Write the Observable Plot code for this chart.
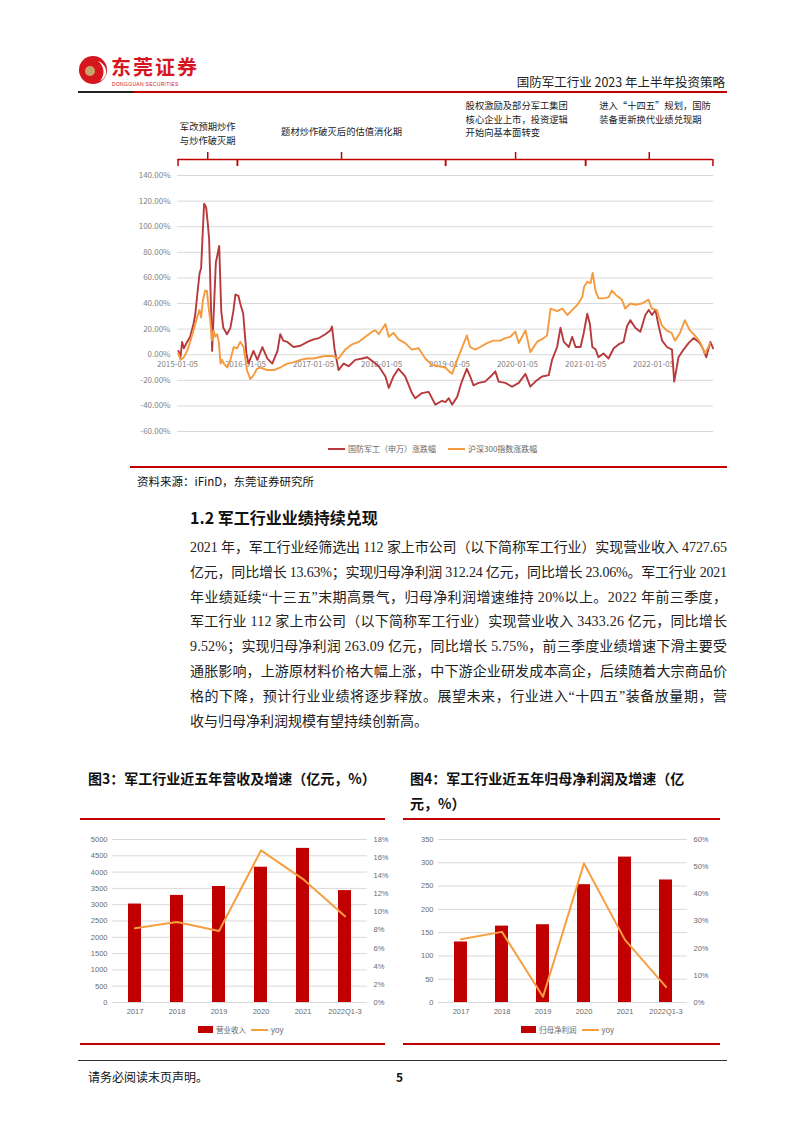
<!DOCTYPE html>
<html><head><meta charset="utf-8">
<script src="https://cdn.jsdelivr.net/npm/d3@7"></script>
<script src="https://cdn.jsdelivr.net/npm/@observablehq/plot@0.6"></script>
<style>
body{margin:0;background:#fff;}
#page{position:relative;width:802px;height:1133px;overflow:hidden;background:#fff;font-family:"Noto Sans CJK SC","Noto Sans",sans-serif;color:#1a1a1a;}
.abs{position:absolute;}
.hr{position:absolute;}
.pline{position:absolute;left:190px;height:20px;line-height:20px;font-size:14px;white-space:nowrap;font-family:"Liberation Serif","Noto Sans CJK SC",serif;color:#222;}
.figtitle{position:absolute;font-size:14px;font-weight:bold;white-space:nowrap;color:#111;}
.legend{position:absolute;font-size:8px;color:#666;white-space:nowrap;display:flex;align-items:center;}
.legend .ln{display:inline-block;width:17px;height:2px;margin-right:3px;}
.legend .bx{display:inline-block;width:15px;height:7px;margin-right:3px;}
svg{overflow:visible;}
</style></head>
<body><div id="page">
  <!-- header -->
  <svg class="abs" style="left:78px;top:53px" width="32" height="34" viewBox="0 0 32 34">
    <circle cx="15" cy="17" r="14" fill="#d5161f"/>
    <path d="M20 8 C30 12 31 24 22 28 C27 22 27 14 20 8 Z" fill="#fff"/>
    <circle cx="12" cy="18" r="5" fill="#c9a46a"/>
  </svg>
  <div class="abs" style="left:111px;top:55px;font-size:20px;font-weight:bold;color:#d5161f;letter-spacing:2px;line-height:24px;">东莞证券</div>
  <div class="abs" style="left:112px;top:81px;font-size:5px;color:#d5161f;letter-spacing:0.3px;line-height:6px;font-family:'Liberation Sans',sans-serif;">DONGGUAN SECURITIES</div>
  <div class="abs" style="right:77px;top:74px;font-size:12.5px;line-height:16px;color:#222;white-space:nowrap;">国防军工行业 2023 年上半年投资策略</div>
  <div class="hr" style="left:78px;top:91px;width:56px;height:2px;background:#222;"></div>
  <div class="hr" style="left:134px;top:91px;width:593px;height:2px;background:#c00000;"></div>

  <div id="topchart" class="abs" style="left:130px;top:95px;"></div>
  <div class="legend" style="left:328px;top:443px;"><span class="ln" style="background:#b8393b"></span>国防军工（申万）涨跌幅</div>
  <div class="legend" style="left:448px;top:443px;"><span class="ln" style="background:#f49b3f"></span>沪深300指数涨跌幅</div>

  <div class="hr" style="left:130px;top:466px;width:597px;height:1.5px;background:#c00000;"></div>
  <div class="abs" style="left:137px;top:472px;font-size:11.5px;line-height:18px;color:#111;">资料来源：iFinD，东莞证券研究所</div>

  <div class="abs" style="left:190px;top:506px;font-size:16px;font-weight:bold;line-height:22px;color:#111;">1.2 军工行业业绩持续兑现</div>

  <div id="para"></div>

  <div class="figtitle" style="left:88px;top:768px;">图3：军工行业近五年营收及增速（亿元，%）</div>
  <div class="figtitle" style="left:410px;top:768px;">图4：军工行业近五年归母净利润及增速（亿</div>
  <div class="figtitle" style="left:410px;top:793px;">元，%）</div>

  <div class="hr" style="left:80px;top:818px;width:305px;height:1.5px;background:#c00000;"></div>
  <div class="hr" style="left:403px;top:818px;width:317px;height:1.5px;background:#c00000;"></div>
  <div id="chart3" class="abs" style="left:80px;top:822px;"></div>
  <div id="chart4" class="abs" style="left:403px;top:822px;"></div>
  <div class="legend" style="left:198px;top:1024px;font-size:7.5px;"><span class="bx" style="background:#c00000"></span>营业收入<span class="ln" style="background:#f5a040;margin-left:5px;"></span>yoy</div>
  <div class="legend" style="left:521px;top:1024px;font-size:7.5px;"><span class="bx" style="background:#c00000"></span>归母净利润<span class="ln" style="background:#f5a040;margin-left:5px;"></span>yoy</div>
  <div class="hr" style="left:80px;top:1043px;width:305px;height:1.5px;background:#c00000;"></div>
  <div class="hr" style="left:403px;top:1043px;width:317px;height:1.5px;background:#c00000;"></div>

  <div class="hr" style="left:78px;top:1060px;width:649px;height:1px;background:#333;"></div>
  <div class="abs" style="left:88px;top:1069px;font-size:12px;line-height:16px;color:#111;">请务必阅读末页声明。</div>
  <div class="abs" style="left:396px;top:1069px;font-size:12px;line-height:16px;font-weight:bold;color:#111;">5</div>
</div>
<script>
// ---------- DATA ----------
const defenseDates = ["2015-01-10","2015-01-21","2015-01-30","2015-02-08","2015-02-26","2015-03-14","2015-04-01","2015-04-10","2015-04-22","2015-05-03","2015-05-12","2015-05-21","2015-05-28","2015-06-08","2015-06-17","2015-06-24","2015-07-03","2015-07-10","2015-07-30","2015-08-17","2015-08-28","2015-09-08","2015-09-28","2015-10-16","2015-11-01","2015-11-12","2015-11-28","2015-12-08","2015-12-24","2016-01-10","2016-01-21","2016-02-17","2016-03-09","2016-04-05","2016-05-02","2016-05-28","2016-06-25","2016-07-10","2016-07-26","2016-08-17","2016-09-19","2016-10-26","2016-12-03","2017-01-05","2017-02-03","2017-03-09","2017-04-05","2017-04-14","2017-04-28","2017-05-19","2017-06-15","2017-07-12","2017-08-17","2017-09-23","2017-10-20","2017-11-16","2017-12-21","2018-01-26","2018-02-13","2018-03-10","2018-04-06","2018-05-12","2018-06-17","2018-07-05","2018-08-10","2018-09-15","2018-10-21","2018-11-26","2018-12-14","2019-01-01","2019-01-19","2019-02-15","2019-03-12","2019-04-08","2019-04-26","2019-05-14","2019-06-10","2019-07-15","2019-08-21","2019-09-08","2019-09-26","2019-11-01","2019-12-07","2020-01-12","2020-02-17","2020-03-14","2020-04-10","2020-05-16","2020-06-21","2020-07-09","2020-08-05","2020-08-23","2020-09-10","2020-10-07","2020-10-25","2020-11-12","2020-12-09","2020-12-26","2021-01-14","2021-01-28","2021-02-10","2021-02-28","2021-03-15","2021-04-11","2021-05-08","2021-06-05","2021-07-01","2021-07-28","2021-08-15","2021-09-02","2021-09-29","2021-10-26","2021-11-22","2021-12-10","2021-12-28","2022-01-15","2022-02-02","2022-02-20","2022-03-18","2022-04-14","2022-04-26","2022-05-19","2022-06-15","2022-07-12","2022-08-08","2022-09-05","2022-09-23","2022-10-15","2022-11-06","2022-11-21"];
const defenseValues = [3,-2,10,5,10,14,24,31,48,63,68,97,118,115,102,90,42,3,72,85,34,21,16,21,34,47,46,40,32,1,-7,3,-4,6,-3,-7,3,16,11,10,6,7,10,12,13,16,19,22,4,-12,-7,-9,-4,-3,-2,-5,-9,-17,-26,-17,-11,-17,-30,-34,-30,-29,-39,-36,-37,-34,-39,-33,-21,-11,-17,-24,-22,-21,-16,-13,-21,-22,-25,-22,-15,-25,-21,-17,-16,-4,6,21,10,6,14,6,6,17,32,24,6,4,-2,1,-3,5,8,10,22,27,21,18,31,35,31,35,22,11,6,4,-21,-2,4,9,13,10,6,-2,10,5];

const hs300Dates = ["2015-01-10","2015-01-21","2015-02-08","2015-02-26","2015-03-14","2015-04-01","2015-04-20","2015-05-03","2015-05-12","2015-05-21","2015-06-02","2015-06-12","2015-06-21","2015-06-30","2015-07-09","2015-07-18","2015-07-27","2015-08-06","2015-08-15","2015-08-24","2015-09-02","2015-09-11","2015-09-29","2015-10-16","2015-11-03","2015-11-21","2015-12-08","2015-12-26","2016-01-13","2016-01-31","2016-02-18","2016-03-07","2016-03-25","2016-04-30","2016-06-05","2016-07-10","2016-08-16","2016-09-21","2016-10-26","2016-12-01","2017-01-05","2017-02-03","2017-03-09","2017-04-14","2017-05-19","2017-06-24","2017-07-30","2017-09-04","2017-10-10","2017-11-16","2017-12-03","2017-12-21","2018-01-26","2018-02-13","2018-03-10","2018-04-06","2018-05-12","2018-06-17","2018-07-23","2018-08-28","2018-10-03","2018-11-08","2018-12-14","2019-01-03","2019-01-19","2019-02-15","2019-03-12","2019-04-08","2019-04-26","2019-05-23","2019-06-19","2019-07-25","2019-08-30","2019-10-05","2019-11-01","2019-11-28","2019-12-25","2020-01-12","2020-01-30","2020-02-17","2020-03-14","2020-04-19","2020-05-25","2020-06-12","2020-07-01","2020-08-06","2020-09-02","2020-09-29","2020-10-26","2020-11-22","2020-12-01","2020-12-18","2020-12-28","2021-01-14","2021-02-01","2021-02-12","2021-02-27","2021-03-16","2021-04-12","2021-05-09","2021-05-26","2021-06-22","2021-07-19","2021-08-06","2021-09-02","2021-09-29","2021-11-03","2021-12-09","2021-12-27","2022-01-22","2022-02-18","2022-03-16","2022-04-12","2022-04-30","2022-05-27","2022-06-22","2022-07-19","2022-08-15","2022-09-11","2022-10-08","2022-10-26","2022-11-04"];
const hs300Values = [1,-4,-2,3,10,19,29,35,29,42,50,50,37,27,11,19,14,16,10,-7,-4,-7,-10,-4,6,5,10,6,-12,-19,-16,-11,-10,-12,-12,-10,-7,-6,-4,-3,-3,-2,-1,-1,-3,4,8,10,14,18,19,16,24,14,17,12,9,4,5,-3,-8,-9,-10,-13,-15,-4,5,15,6,4,6,9,11,11,13,14,18,9,14,19,2,10,13,15,36,34,36,31,35,39,41,45,53,57,56,64,50,44,44,45,50,46,43,36,40,39,40,43,36,35,23,19,17,11,17,27,19,15,10,1,6,9];

const topYTicks = [-60,-40,-20,0,20,40,60,80,100,120,140];
const topXLabels = ["2015-01-05","2016-01-05","2017-01-05","2018-01-05","2019-01-05","2020-01-05","2021-01-05","2022-01-05"];
const topXDomain = ["2015-01-05","2022-11-23"];

const periodStarts = ["2015-01-08","2015-11-23","2018-12-15","2021-01-05"];
const periodEnds   = ["2015-11-23","2018-12-15","2021-01-05","2022-11-20"];
const periodLabels = ["军改预期炒作\n与炒作破灭期","题材炒作破灭后的估值消化期","股权激励及部分军工集团\n核心企业上市，投资逻辑\n开始向基本面转变","进入“十四五”规划，国防\n装备更新换代业绩兑现期"];

const years = ["2017","2018","2019","2020","2021","2022Q1-3"];
const revenue = [3020, 3285, 3560, 4150, 4727.65, 3433.26];
const revenueYoy = [8.2, 8.9, 7.9, 16.8, 13.63, 9.52];
const profit = [130, 164, 167, 253, 312.24, 263.09];
const profitYoy = [23.3, 26.0, 2.1, 51.2, 23.06, 5.75];
const revTicks = [0,500,1000,1500,2000,2500,3000,3500,4000,4500,5000];
const revYoyTicks = [0,2,4,6,8,10,12,14,16,18];
const profitTicks = [0,50,100,150,200,250,300,350];
const profitYoyTicks = [0,10,20,30,40,50,60];

const paraLines = [
  "2021 年，军工行业经筛选出 112 家上市公司（以下简称军工行业）实现营业收入 4727.65",
  "亿元，同比增长 13.63%；实现归母净利润 312.24 亿元，同比增长 23.06%。军工行业 2021",
  "年业绩延续“十三五”末期高景气，归母净利润增速维持 20%以上。2022 年前三季度，",
  "军工行业 112 家上市公司（以下简称军工行业）实现营业收入 3433.26 亿元，同比增长",
  "9.52%；实现归母净利润 263.09 亿元，同比增长 5.75%，前三季度业绩增速下滑主要受",
  "通胀影响，上游原材料价格大幅上涨，中下游企业研发成本高企，后续随着大宗商品价",
  "格的下降，预计行业业绩将逐步释放。展望未来，行业进入“十四五”装备放量期，营",
  "收与归母净利润规模有望持续创新高。"
];

(function () {
// ---------- PARAGRAPH ----------
const para = document.getElementById("para");
const lineTop0 = 538, lineGap = 24.8, paraWidth = 537;
paraLines.forEach((t, i) => {
  const d = document.createElement("div");
  d.className = "pline";
  d.style.top = (lineTop0 + i * lineGap) + "px";
  const s = document.createElement("span");
  s.textContent = t;
  d.appendChild(s);
  para.appendChild(d);
  if (i < paraLines.length - 1) {
    const w = s.getBoundingClientRect().width;
    const n = [...t].length;
    s.style.letterSpacing = ((paraWidth - w) / (n - 1)) + "px";
  }
});

// ---------- TOP CHART ----------
const FONT = "'Noto Sans CJK SC','Noto Sans',sans-serif";
const RED = "#b8393b", ORANGE = "#f49b3f";
const defense = defenseDates.map((d, i) => ({date: new Date(d), value: defenseValues[i]}));
const hs300 = hs300Dates.map((d, i) => ({date: new Date(d), value: hs300Values[i]}));
const periods = periodStarts.map((s, i) => {
  const a = new Date(s), b = new Date(periodEnds[i]);
  return {start: a, end: b, mid: new Date((+a + +b) / 2), label: periodLabels[i]};
});
const labelBottoms = [164.5, 171.5, 170.5, 181];
const BR = "#c00000";

const topPlot = Plot.plot({
  width: 600, height: 367,
  marginTop: 80, marginBottom: 31, marginLeft: 47, marginRight: 17,
  x: {type: "utc", domain: topXDomain.map(d => new Date(d)), axis: null},
  y: {domain: [-60, 140]},
  style: {fontFamily: FONT, fontSize: "8px", background: "transparent", overflow: "visible"},
  marks: [
    Plot.gridY(topYTicks, {stroke: "#d9d9d9", strokeOpacity: 1}),
    Plot.axisY(topYTicks, {tickSize: 0, tickPadding: 7, tickFormat: d => d.toFixed(2) + "%", fill: "#7f7f7f", label: null}),
    Plot.text(topXLabels, {x: d => new Date(d), y: 0, dy: 10, text: d => d, fill: "#7f7f7f"}),
    Plot.line(defense, {x: "date", y: "value", stroke: RED, strokeWidth: 1.9}),
    Plot.line(hs300, {x: "date", y: "value", stroke: ORANGE, strokeWidth: 1.9}),
    Plot.ruleY(periods, {x1: "start", x2: "end", y: 152.5, stroke: BR, strokeWidth: 1.5}),
    Plot.ruleX(periods, {x: "start", y1: 147, y2: 152.5, stroke: BR, strokeWidth: 1.5}),
    Plot.ruleX(periods, {x: "end", y1: 147, y2: 152.5, stroke: BR, strokeWidth: 1.5}),
    Plot.ruleX(periods, {x: "mid", y1: 152.5, y2: 158, stroke: BR, strokeWidth: 1.5}),
    Plot.text(periods.slice(0, 2), {x: "mid", y: (d, i) => labelBottoms[i], text: "label", lineAnchor: "bottom", textAnchor: "middle", fontSize: 9.3, lineHeight: 1.5, fill: "#222"}),
    Plot.text(periods.slice(2), {x: "mid", y: (d, i) => labelBottoms[i + 2], text: "label", lineAnchor: "bottom", textAnchor: "start", dx: -50, fontSize: 9.3, lineHeight: 1.5, fill: "#222"})
  ]
});
document.getElementById("topchart").appendChild(topPlot);

// ---------- BOTTOM CHARTS ----------
function barLineChart(cats, barVals, yoyVals, leftTicks, rightTicks, width, ml, mr) {
  const leftMax = leftTicks[leftTicks.length - 1];
  const rightMax = rightTicks[rightTicks.length - 1];
  const k = leftMax / rightMax;
  const rows = cats.map((c, i) => ({cat: c, bar: barVals[i], yoy: yoyVals[i] * k}));
  return Plot.plot({
    width, height: 200, marginTop: 17, marginBottom: 20, marginLeft: ml, marginRight: mr,
    x: {type: "band", domain: cats, paddingInner: 0.69, paddingOuter: 0.345},
    y: {domain: [0, leftMax]},
    style: {fontFamily: "'Liberation Sans','Noto Sans CJK SC',sans-serif", fontSize: "7.5px", background: "transparent", overflow: "visible"},
    marks: [
      Plot.gridY(leftTicks, {stroke: "#d9d9d9", strokeOpacity: 1}),
      Plot.axisY(leftTicks, {tickSize: 0, tickPadding: 5, label: null, fill: "#6b6b6b", tickFormat: d => String(d)}),
      Plot.axisY(rightTicks.map(v => v * k), {anchor: "right", tickSize: 0, tickPadding: 6, label: null, fill: "#6b6b6b", tickFormat: d => Math.round(d / k) + "%"}),
      Plot.axisX({tickSize: 0, tickPadding: 6, label: null, fill: "#6b6b6b"}),
      Plot.barY(rows, {x: "cat", y: "bar", fill: "#c00000"}),
      Plot.line(rows, {x: "cat", y: "yoy", stroke: "#f5a040", strokeWidth: 2})
    ]
  });
}
document.getElementById("chart3").appendChild(barLineChart(years, revenue, revenueYoy, revTicks, revYoyTicks, 305, 32, 18));
document.getElementById("chart4").appendChild(barLineChart(years, profit, profitYoy, profitTicks, profitYoyTicks, 317, 35, 33));
})();
</script>
</body></html>
